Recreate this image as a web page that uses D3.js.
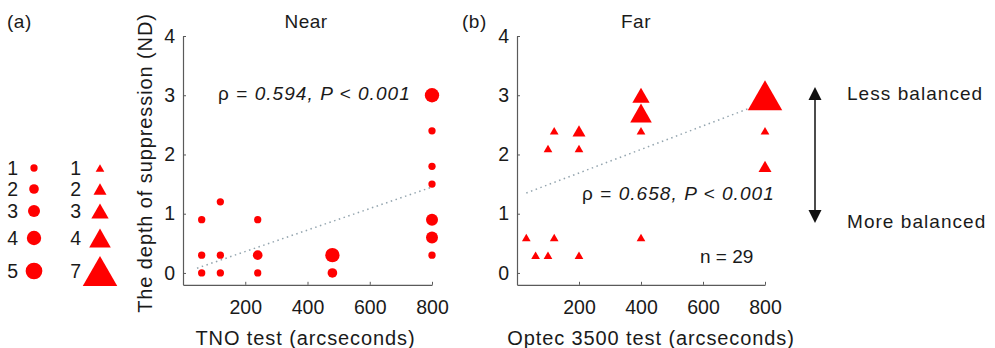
<!DOCTYPE html>
<html>
<head>
<meta charset="utf-8">
<script src="https://cdn.jsdelivr.net/npm/d3@7"></script>
<style>
  body { margin: 0; background: #fff; }
  text { font-family: "Liberation Sans", Arial, sans-serif; fill: #1a1a1a; }
</style>
</head>
<body>
<script>
// Near panel: TNO test (arcseconds) vs depth of suppression, marker = number of subjects
const nearTNO   = [60, 60, 60, 120, 120, 120, 240, 240, 240, 480, 480, 800, 800, 800, 800, 800, 800, 800]
const nearDepth = [0.9, 0.3, 0, 1.2, 0.3, 0, 0.9, 0.3, 0, 0.3, 0, 3.0, 2.4, 1.8, 1.5, 0.9, 0.6, 0.3]
const nearCount = [1, 1, 1, 1, 1, 1, 1, 2, 1, 4, 2, 4, 1, 1, 1, 3, 3, 1]

// Far panel: Optec 3500 test (arcseconds)
const farOptec = [30, 60, 100, 100, 120, 120, 200, 200, 200, 400, 400, 400, 400, 800, 800, 800]
const farDepth = [0.6, 0.3, 0.3, 2.1, 2.4, 0.6, 2.4, 2.1, 0.3, 3.0, 2.7, 2.4, 0.6, 3.0, 2.4, 1.8]
const farCount = [1, 1, 1, 1, 1, 1, 2, 1, 1, 3, 4, 1, 1, 7, 1, 2]

// regression lines (end points)
const nearFitX = [45, 800]
const nearFitY = [0.08, 1.45]
const farFitX = [30, 800]
const farFitY = [1.35, 2.88]

// legend keys
const circleKeys = [1, 2, 3, 4, 5]
const triangleKeys = [1, 2, 3, 4, 7]

const xTicks = [200, 400, 600, 800]
const yTicks = [0, 1, 2, 3, 4]

const WIDTH = 995
const HEIGHT = 348
const LEGEND_ROWS = [168, 189, 211, 238, 271]

const svg = d3.select("body").append("svg")
  .attr("width", WIDTH)
  .attr("height", HEIGHT)

const y = d3.scaleLinear().domain([-0.2, 4]).range([284.8, 36])
const xNear = d3.scaleLinear().domain([0, 800]).range([183, 432])
const xFar = d3.scaleLinear().domain([0, 800]).range([517, 765])

// marker sizes: circle diameter, triangle width
const circleSize = d3.scaleLinear().domain([1, 5]).range([7.3, 16.7])
const triSize = d3.scaleLinear().domain([1, 7]).range([8.7, 34.5])

function triangle(w) {
  const h = w * 0.87
  return `M0,${-h / 2}L${w / 2},${h / 2}L${-w / 2},${h / 2}Z`
}

function drawAxes(x) {
  const xAxis = svg.append("g")
    .attr("transform", `translate(0, ${y(-0.2)})`)
    .call(d3.axisBottom(x).tickValues(xTicks).tickFormat(d3.format("d"))
      .tickSizeInner(-3).tickSizeOuter(0).tickPadding(15))
  const yAxis = svg.append("g")
    .attr("transform", `translate(${x(0)}, 0)`)
    .call(d3.axisLeft(y).tickValues(yTicks).tickFormat(d3.format("d"))
      .tickSizeInner(-3).tickSizeOuter(0).tickPadding(8))
  ;[xAxis, yAxis].forEach(a => {
    a.attr("font-family", null).attr("font-size", null)
    a.select(".domain").attr("stroke", "#5a5a5a").attr("stroke-width", 1.2)
    a.selectAll(".tick line").attr("stroke", "#5a5a5a")
    a.selectAll(".tick text").attr("font-size", "19.5px").attr("fill", "#1a1a1a")
  })
}

function drawFit(x, fx, fy) {
  svg.append("path")
    .attr("d", d3.line()(fx.map((v, i) => [x(v), y(fy[i])])))
    .attr("fill", "none")
    .attr("stroke", "#93a4ae")
    .attr("stroke-width", 1.5)
    .attr("stroke-dasharray", "1.5,3.5")
}

drawAxes(xNear)
drawAxes(xFar)
drawFit(xNear, nearFitX, nearFitY)
drawFit(xFar, farFitX, farFitY)

// Near points
svg.append("g").selectAll("circle")
  .data(d3.range(nearTNO.length))
  .join("circle")
  .attr("cx", i => xNear(nearTNO[i]))
  .attr("cy", i => y(nearDepth[i]))
  .attr("r", i => circleSize(nearCount[i]) / 2)
  .attr("fill", "#ff0000")

// Far points
svg.append("g").selectAll("path")
  .data(d3.range(farOptec.length))
  .join("path")
  .attr("transform", i => `translate(${xFar(farOptec[i])}, ${y(farDepth[i])})`)
  .attr("d", i => triangle(triSize(farCount[i])))
  .attr("fill", "#ff0000")

// Legend
const legend = svg.append("g")
circleKeys.forEach((k, i) => {
  legend.append("text").attr("x", 18).attr("y", LEGEND_ROWS[i] + 7)
    .attr("text-anchor", "end").attr("font-size", "19.5px").text(k)
  legend.append("circle").attr("cx", 34).attr("cy", LEGEND_ROWS[i])
    .attr("r", circleSize(k) / 2).attr("fill", "#ff0000")
})
triangleKeys.forEach((k, i) => {
  legend.append("text").attr("x", 81).attr("y", LEGEND_ROWS[i] + 7)
    .attr("text-anchor", "end").attr("font-size", "19.5px").text(k)
  legend.append("path").attr("transform", `translate(100, ${LEGEND_ROWS[i]})`)
    .attr("d", triangle(triSize(k))).attr("fill", "#ff0000")
})

// Labels
function label(x, yy, txt, size, ls, anchor) {
  return svg.append("text")
    .attr("x", x).attr("y", yy)
    .attr("font-size", size + "px")
    .attr("letter-spacing", ls)
    .attr("text-anchor", anchor || "start")
    .text(txt)
}

label(7, 28, "(a)", 19, 0.5)
label(462, 28, "(b)", 19, 0.5)
label(306, 28, "Near", 19, 0.5, "middle")
label(636, 28, "Far", 19, 0.5, "middle")
label(305.5, 345, "TNO test (arcseconds)", 20, 0.9, "middle")
label(651, 345, "Optec 3500 test (arcseconds)", 20, 0.9, "middle")

svg.append("text")
  .attr("transform", "translate(152, 163) rotate(-90)")
  .attr("text-anchor", "middle")
  .attr("font-size", "20px")
  .attr("letter-spacing", 0.9)
  .text("The depth of suppression (ND)")

function rho(x, yy, r, p) {
  const t = label(x, yy, "", 19, 1.05)
  t.append("tspan").text("ρ = ")
  t.append("tspan").attr("font-style", "italic").text(`${r}, P < ${p}`)
}
rho(218, 100, "0.594", "0.001")
rho(582, 200, "0.658", "0.001")
label(700, 263, "n = 29", 19, 0)

label(847, 100, "Less balanced", 19, 1.05)
label(847, 228, "More balanced", 19, 1.05)

// double arrow
const ax = 815
svg.append("line").attr("x1", ax).attr("x2", ax).attr("y1", 96).attr("y2", 214)
  .attr("stroke", "#111").attr("stroke-width", 1.5)
svg.append("path").attr("d", `M${ax},87L${ax + 6.5},100L${ax - 6.5},100Z`).attr("fill", "#111")
svg.append("path").attr("d", `M${ax},223L${ax + 6.5},210L${ax - 6.5},210Z`).attr("fill", "#111")
</script>
</body>
</html>
